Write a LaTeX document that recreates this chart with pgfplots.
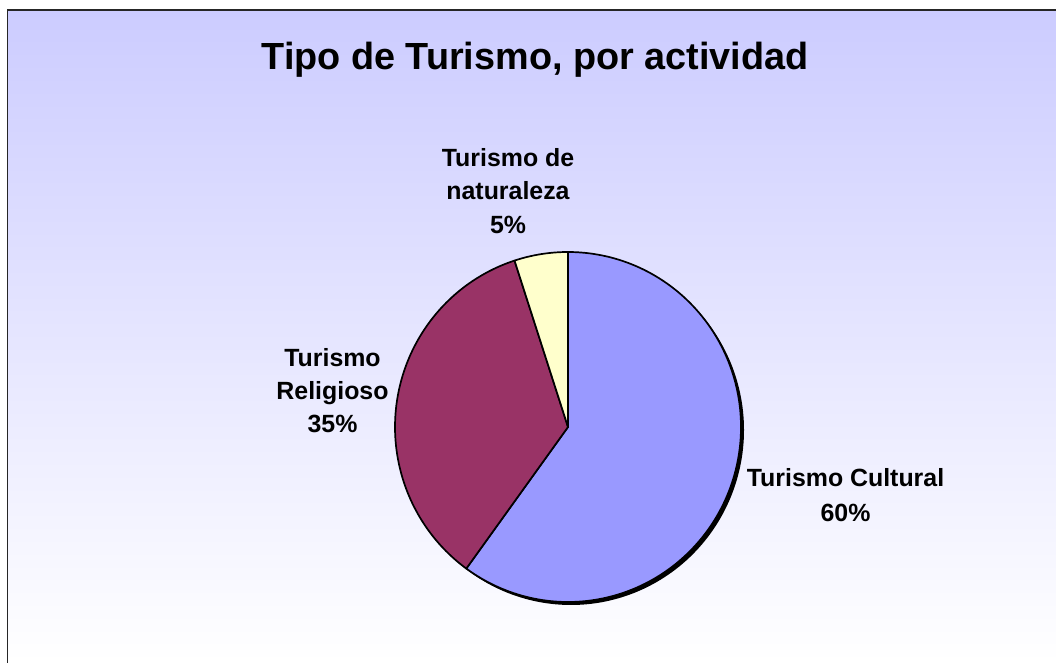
\documentclass[border=0pt]{standalone}
\usepackage{pgfplots}
\usepackage{pgfplotstable}
\pgfplotsset{compat=1.18}
\usepackage{fontspec}
\setmainfont{Liberation Sans}

\definecolor{cult}{RGB}{153,153,255}
\definecolor{relig}{RGB}{153,51,102}
\definecolor{natu}{RGB}{255,255,204}
\definecolor{bgtop}{RGB}{204,204,255}

\pgfplotstableread{
name value
Cultural 60
Religioso 35
Naturaleza 5
}\piedata

\pgfplotstablegetelem{0}{value}\of\piedata \let\vA\pgfplotsretval
\pgfplotstablegetelem{1}{value}\of\piedata \let\vB\pgfplotsretval
\pgfplotstablegetelem{2}{value}\of\piedata \let\vC\pgfplotsretval

\begin{document}
\begin{tikzpicture}
\pgfmathsetmacro{\tot}{\vA+\vB+\vC}
\pgfmathsetmacro{\aS}{90}
\pgfmathsetmacro{\aA}{90-\vA/\tot*360}
\pgfmathsetmacro{\aB}{\aA-\vB/\tot*360}
\pgfmathsetmacro{\aC}{\aB-\vC/\tot*360}
\def\cx{568}\def\cy{236}\def\rx{173}\def\ry{175}
\begin{axis}[
  at={(0,0)}, anchor=south west,
  scale only axis, width=1056pt, height=663pt,
  xmin=0, xmax=1056, ymin=0, ymax=663,
  hide axis, clip=false,
]
% background
\shade[top color=bgtop, bottom color=white] (axis cs:7.5,0) rectangle (axis cs:1056,653);
\draw[black!85, line width=1.3pt] (axis cs:7.5,0) -- (axis cs:7.5,653) -- (axis cs:1056,653);
% shadow
\addplot[fill=black, draw=none, domain=0:360, samples=240, variable=\t]
  ({\cx+3+\rx*cos(\t)}, {\cy-3+\ry*sin(\t)}) -- cycle;
% slices
\addplot[fill=cult, draw=black, line width=1.7pt, line join=round, domain=\aA:\aS, samples=150, variable=\t]
  ({\cx+\rx*cos(\t)}, {\cy+\ry*sin(\t)}) -- (axis cs:\cx,\cy) -- cycle;
\addplot[fill=relig, draw=black, line width=1.7pt, line join=round, domain=\aB:\aA, samples=100, variable=\t]
  ({\cx+\rx*cos(\t)}, {\cy+\ry*sin(\t)}) -- (axis cs:\cx,\cy) -- cycle;
\addplot[fill=natu, draw=black, line width=1.7pt, line join=round, domain=\aC:\aB, samples=30, variable=\t]
  ({\cx+\rx*cos(\t)}, {\cy+\ry*sin(\t)}) -- (axis cs:\cx,\cy) -- cycle;
% title
\node[anchor=base, font=\fontsize{37.8}{44}\selectfont\bfseries] at (axis cs:535,593) {Tipo de Turismo, por actividad};
% labels
\tikzset{lbl/.style={anchor=base, inner sep=0pt, font=\fontsize{24.9}{30}\selectfont\bfseries}}
\node[lbl] at (axis cs:508,496) {Turismo de};
\node[lbl] at (axis cs:508,463) {naturaleza};
\node[lbl] at (axis cs:508,429) {5\%};
\node[lbl] at (axis cs:332.5,296) {Turismo};
\node[lbl] at (axis cs:332.5,263) {Religioso};
\node[lbl] at (axis cs:332.5,230) {35\%};
\node[lbl] at (axis cs:845.5,176) {Turismo Cultural};
\node[lbl] at (axis cs:845.5,141) {60\%};
\end{axis}
\pgfresetboundingbox
\path[use as bounding box] (0,0) rectangle (1056pt,663pt);
\end{tikzpicture}
\end{document}
